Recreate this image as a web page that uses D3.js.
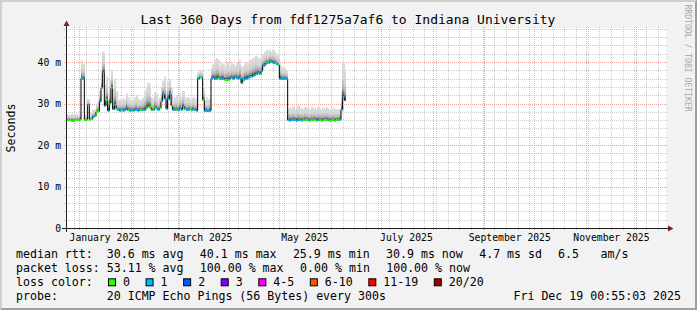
<!DOCTYPE html>
<html>
<head>
<meta charset="utf-8">
<script src="https://cdn.jsdelivr.net/npm/d3@7"></script>
<style>
html, body { margin: 0; padding: 0; background: #f2f2f2; }
svg { display: block; }
text { font-family: "DejaVu Sans Mono", monospace; fill: #000; white-space: pre; }
</style>
</head>
<body>
<svg id="chart" width="697" height="310"></svg>
<script>
// time window: last 360 days up to the graph time
const startTime = new Date(Date.UTC(2024, 11, 24, 0, 55, 3));
const endTime = new Date(Date.UTC(2025, 11, 19, 0, 55, 3));

// one value per day from startTime (ms)
const medianMs = [
  26.0, 26.0, 26.1, 25.8, 25.9, 26.0, 26.0, 26.1, 26.0, 36.1,
  35.9, 26.0, 26.1, 29.6, 26.1, 26.2, 26.8, 26.9, 28.0, 28.1,
  30.4, 33.7, 37.3, 29.4, 30.8, 28.3, 30.0, 33.8, 28.6, 29.6,
  28.6, 28.4, 28.3, 28.4, 28.3, 28.4, 29.0, 28.4, 28.3, 28.4,
  28.3, 28.4, 28.4, 28.3, 28.5, 28.4, 28.4, 28.5, 29.0, 29.2,
  29.1, 28.5, 28.4, 28.8, 28.7, 28.5, 28.8, 30.5, 32.2, 31.2,
  28.7, 31.0, 32.3, 29.5, 28.5, 28.4, 28.5, 28.4, 28.8, 28.5,
  29.2, 28.6, 28.4, 28.4, 28.6, 28.4, 28.5, 28.4, 28.3, 35.9,
  36.3, 36.1, 30.8, 28.2, 28.2, 28.1, 28.2, 36.0, 36.1, 35.9,
  36.0, 36.2, 36.0, 35.9, 36.0, 35.7, 35.6, 35.7, 36.0, 36.1,
  36.0, 36.3, 36.1, 36.0, 36.1, 34.9, 35.6, 36.0, 36.0, 36.2,
  36.3, 36.5, 36.7, 36.9, 37.0, 37.3, 37.0, 37.8, 39.0, 39.3,
  39.7, 39.7, 40.0, 40.1, 39.8, 39.7, 39.5, 39.3, 36.0, 36.0,
  35.9, 36.0, 35.9, 26.0, 25.9, 26.0, 26.0, 26.1, 25.9, 26.0,
  26.0, 25.9, 26.0, 26.1, 26.0, 26.0, 25.9, 26.0, 26.0, 26.1,
  25.9, 26.0, 26.0, 25.9, 26.0, 26.0, 26.1, 26.0, 25.9, 26.0,
  26.0, 25.9, 26.0, 26.0, 26.1, 28.5, 31.5, 30.9
];

// slowest ping of each day (top of the smoke), ms
const smokeMaxMs = [
  27.3, 27.5, 27.2, 27.6, 27.4, 27.2, 27.5, 27.3, 28.0, 40.5,
  39.5, 27.4, 27.6, 31.0, 27.5, 27.8, 28.4, 28.6, 29.8, 30.5,
  33.0, 38.0, 42.5, 34.5, 36.5, 31.0, 36.0, 38.0, 31.5, 36.0,
  33.0, 30.8, 31.0, 30.6, 31.2, 30.8, 32.5, 31.5, 30.8, 31.0,
  30.6, 31.5, 32.0, 31.0, 31.0, 30.8, 31.5, 33.0, 34.0, 35.0,
  34.5, 31.5, 31.0, 32.8, 32.5, 31.0, 31.5, 34.0, 35.5, 36.5,
  33.0, 35.5, 36.0, 34.0, 31.0, 31.5, 32.0, 31.0, 32.5, 31.5,
  33.0, 31.5, 31.0, 31.5, 31.0, 30.8, 31.5, 31.0, 31.5, 37.5,
  38.0, 38.0, 34.0, 31.0, 31.5, 31.0, 31.2, 38.5, 39.5, 40.5,
  41.0, 40.5, 39.0, 40.0, 39.5, 39.0, 39.5, 40.0, 39.0, 40.0,
  39.5, 39.0, 40.0, 39.5, 40.5, 39.0, 39.0, 39.5, 40.0, 39.5,
  40.5, 40.0, 41.0, 40.5, 41.5, 41.0, 41.0, 41.5, 42.0, 42.5,
  43.0, 42.5, 43.0, 42.5, 43.0, 42.5, 42.0, 41.5, 40.0, 39.0,
  38.5, 38.5, 38.0, 28.5, 29.0, 28.8, 29.3, 28.6, 29.0, 29.5,
  28.8, 29.0, 28.6, 29.2, 28.8, 29.0, 28.5, 29.3, 28.8, 29.0,
  28.6, 29.2, 28.8, 28.5, 29.0, 28.7, 29.2, 28.8, 28.5, 29.0,
  28.6, 28.8, 28.5, 28.7, 28.6, 33.0, 40.0, 38.0
];

// lost pings out of 20 per day
const lostPings = [
  0, 0, 0, 0, 0, 0, 0, 0, 0, 1,
  1, 0, 0, 1, 0, 0, 1, 1, 0, 0,
  1, 0, 1, 1, 0, 1, 0, 0, 1, 1,
  0, 1, 1, 0, 1, 1, 1, 0, 1, 1,
  1, 1, 1, 1, 0, 1, 1, 1, 0, 0,
  0, 1, 0, 0, 1, 1, 0, 1, 1, 1,
  1, 1, 1, 0, 1, 1, 0, 1, 1, 1,
  1, 0, 1, 1, 0, 1, 0, 1, 1, 1,
  0, 1, 0, 1, 1, 1, 1, 1, 1, 1,
  1, 0, 1, 1, 1, 0, 0, 0, 1, 1,
  1, 1, 1, 1, 1, 1, 0, 1, 1, 1,
  1, 0, 1, 1, 1, 1, 0, 1, 1, 1,
  1, 0, 1, 1, 1, 1, 1, 0, 1, 1,
  1, 1, 1, 1, 1, 1, 1, 1, 1, 1,
  1, 0, 0, 0, 0, 1, 0, 0, 0, 0,
  0, 1, 0, 0, 0, 0, 0, 1, 0, 0,
  0, 0, 0, 0, 1, 1, 1, 3
];

const lossLabels = ["0", "1", "2", "3", "4-5", "6-10", "11-19", "20/20"];
const lossColors = ["#26ff00", "#00b8ff", "#0059ff", "#7e00ff", "#ff00ff", "#ff5500", "#ff0000", "#a10000"];
const lossUpper = [0, 1, 2, 3, 5, 10, 19, 20];

const yTicks = [0, 10, 20, 30, 40];
const titleText = "Last 360 Days from fdf1275a7af6 to Indiana University";
const rttItems = ["median rtt:  30.6 ms avg", "40.1 ms max", "25.9 ms min", "30.9 ms now", "4.7 ms sd", "6.5", "am/s"];
const lossItems = ["packet loss: 53.11 % avg", "100.00 % max", "0.00 % min", "100.00 % now"];
const probeText = "probe:       20 ICMP Echo Pings (56 Bytes) every 300s";
const dateText = "Fri Dec 19 00:55:03 2025";

const W = 697, H = 310;
const plotL = 66, plotR = 666, plotT = 28, plotB = 228;
const charW = 6.975;

const svg = d3.select("#chart");

// frame: background with shaded edges
svg.append("rect").attr("width", W).attr("height", H).attr("fill", "#f2f2f2");
svg.append("polygon").attr("points", `0,${H} 2,${H - 2} 2,2 ${W - 2},2 ${W},0 0,0`).attr("fill", "#cfcfcf");
svg.append("polygon").attr("points", `2,${H - 2} ${W - 2},${H - 2} ${W - 2},2 ${W},0 ${W},${H} 0,${H}`).attr("fill", "#9e9e9e");
svg.append("rect").attr("x", plotL).attr("y", plotT).attr("width", plotR - plotL).attr("height", plotB - plotT).attr("fill", "#fff");

const x = d3.scaleUtc().domain([startTime, endTime]).range([plotL, plotR]);
const y = d3.scaleLinear().domain([0, 48.2]).range([plotB, plotT]);

const samples = medianMs.map((m, i) => ({
  t0: d3.utcDay.offset(startTime, i),
  t1: d3.utcDay.offset(startTime, i + 1),
  med: m,
  hi: smokeMaxMs[i],
  loss: lostPings[i]
}));

// grid
const minorCol = "rgba(143,143,143,0.45)", majorCol = "rgba(222,79,79,0.5)";
const grid = svg.append("g").attr("stroke-width", 1).attr("stroke-dasharray", "1,1").attr("fill", "none");

const monthLines = d3.utcMonth.range(d3.utcMonth.ceil(startTime), endTime);
const weekLines = d3.utcSunday.range(d3.utcSunday.ceil(startTime), endTime)
  .filter(w => !monthLines.some(m => Math.abs(x(m) - x(w)) < 1.5));

grid.selectAll(".vminor").data(weekLines).join("line")
  .attr("x1", d => Math.round(x(d)) + 0.5).attr("x2", d => Math.round(x(d)) + 0.5)
  .attr("y1", plotB + 2).attr("y2", plotT - 2).attr("stroke", minorCol);

const hMinor = d3.range(2, 48.2, 2).filter(v => v % 10 !== 0);
grid.selectAll(".hminor").data(hMinor).join("line")
  .attr("x1", plotL - 2).attr("x2", plotR + 2)
  .attr("y1", d => Math.round(y(d)) + 0.5).attr("y2", d => Math.round(y(d)) + 0.5)
  .attr("stroke", minorCol);

grid.selectAll(".vmajor").data(monthLines).join("line")
  .attr("x1", d => Math.round(x(d)) + 0.5).attr("x2", d => Math.round(x(d)) + 0.5)
  .attr("y1", plotB + 2).attr("y2", plotT - 2).attr("stroke", majorCol);

grid.selectAll(".hmajor").data(yTicks.filter(v => v > 0)).join("line")
  .attr("x1", plotL - 2).attr("x2", plotR + 2)
  .attr("y1", d => Math.round(y(d)) + 0.5).attr("y2", d => Math.round(y(d)) + 0.5)
  .attr("stroke", majorCol);

// smoke
const defs = svg.append("defs");
const grad = defs.append("linearGradient").attr("id", "smoke")
  .attr("x1", 0).attr("y1", 0).attr("x2", 0).attr("y2", 1);
[[0, "#dddddd"], [0.45, "#d3d3d3"], [0.75, "#ababab"], [0.92, "#5e5e5e"], [1, "#323232"]]
  .forEach(s => grad.append("stop").attr("offset", s[0]).attr("stop-color", s[1]));

svg.append("g").selectAll("rect").data(samples).join("rect")
  .attr("x", d => Math.floor(x(d.t0)))
  .attr("width", d => Math.ceil(x(d.t1)) - Math.floor(x(d.t0)))
  .attr("y", d => y(d.hi))
  .attr("height", d => y(d.med) - y(d.hi))
  .attr("fill", "url(#smoke)");

// median: black steps, then loss-coloured levels
const step = d3.line().x(d => x(d[0])).y(d => y(d[1])).curve(d3.curveStepAfter);
const stepPts = samples.map(d => [d.t0, d.med]);
stepPts.push([samples[samples.length - 1].t1, samples[samples.length - 1].med]);
svg.append("path").datum(stepPts).attr("d", step)
  .attr("fill", "none").attr("stroke", "#000").attr("stroke-width", 1);

const lossIndex = n => lossUpper.findIndex(u => n <= u);
svg.append("g").selectAll("line").data(samples).join("line")
  .attr("x1", d => x(d.t0)).attr("x2", d => x(d.t1))
  .attr("y1", d => Math.round(y(d.med))).attr("y2", d => Math.round(y(d.med)))
  .attr("stroke", d => lossColors[lossIndex(d.loss)]).attr("stroke-width", 2);

// axes
const axisG = svg.append("g").attr("stroke", "#1f1f1f").attr("stroke-width", 1);
axisG.append("line").attr("x1", plotL - 4).attr("x2", plotR + 4).attr("y1", plotB + 0.5).attr("y2", plotB + 0.5);
axisG.append("line").attr("x1", plotL + 0.5).attr("x2", plotL + 0.5).attr("y1", plotB + 4).attr("y2", plotT - 4);
svg.append("polygon").attr("fill", "#801f1f")
  .attr("points", `${plotR + 2},${plotB - 2.5} ${plotR + 2},${plotB + 3.5} ${plotR + 7.5},${plotB + 0.5}`);
svg.append("polygon").attr("fill", "#801f1f")
  .attr("points", `${plotL - 2.5},${plotT - 2} ${plotL + 3.5},${plotT - 2} ${plotL + 0.5},${plotT - 7.5}`);

const yAxis = svg.append("g").attr("transform", `translate(61,0)`)
  .call(d3.axisLeft(y).tickValues(yTicks).tickSize(0).tickPadding(0)
    .tickFormat(v => v === 0 ? "0" : v + " m"));
yAxis.select(".domain").remove();
yAxis.selectAll("text").attr("font-family", "DejaVu Sans Mono").attr("font-size", "9.75px").attr("fill", "#000");

const labelMonths = d3.utcMonth.every(2).range(new Date(Date.UTC(2025, 0, 1)), endTime);
const fmt = d3.utcFormat("%B %Y");
const xAxis = svg.append("g").attr("transform", `translate(0,${plotB})`)
  .call(d3.axisBottom(x).tickValues(labelMonths.map(m => d3.utcDay.offset(m, 15)))
    .tickSize(0).tickPadding(5.8).tickFormat(d => fmt(d3.utcMonth.floor(d))));
xAxis.select(".domain").remove();
xAxis.selectAll("text").attr("font-family", "DejaVu Sans Mono").attr("font-size", "9.75px").attr("fill", "#000");

// title, unit, watermark
svg.append("text").attr("x", 348).attr("y", 24).attr("text-anchor", "middle")
  .attr("font-size", "13px").text(titleText);
svg.append("text").attr("transform", `translate(14.5,${(plotT + plotB) / 2}) rotate(-90)`)
  .attr("text-anchor", "middle").attr("font-size", "11.6px").text("Seconds");
svg.append("text").attr("transform", `translate(684.5,4.5) rotate(90)`)
  .attr("font-size", "8.1px").style("fill", "#a8a8a8").text("RRDTOOL / TOBI OETIKER");

// legend
const legend = svg.append("g").attr("font-size", "11.6px");
const rowY = [257.6, 271.7, 285.8, 299.9];
const rttX = [16, 199.8, 292.9, 386, 479.2, 558, 600.5];
const lossX = [16, 199.8, 300.1, 386.2];
rttItems.forEach((s, i) => legend.append("text").attr("xml:space", "preserve").attr("x", rttX[i]).attr("y", rowY[0]).text(s));
lossItems.forEach((s, i) => legend.append("text").attr("xml:space", "preserve").attr("x", lossX[i]).attr("y", rowY[1]).text(s));
legend.append("text").attr("x", 16).attr("y", rowY[2]).text("loss color:");
let lx = 108;
lossLabels.forEach((lab, i) => {
  legend.append("rect").attr("x", lx + 0.5).attr("y", rowY[2] - 7).attr("width", 7).attr("height", 7)
    .attr("fill", lossColors[i]).attr("stroke", "#000").attr("stroke-width", 1);
  legend.append("text").attr("x", lx + 15).attr("y", rowY[2]).text(lab);
  lx += 15 + lab.length * charW + 15.6;
});
legend.append("text").attr("xml:space", "preserve").attr("x", 16).attr("y", rowY[3]).text(probeText);
legend.append("text").attr("x", 681).attr("y", rowY[3]).attr("text-anchor", "end").text(dateText);
</script>
</body>
</html>
